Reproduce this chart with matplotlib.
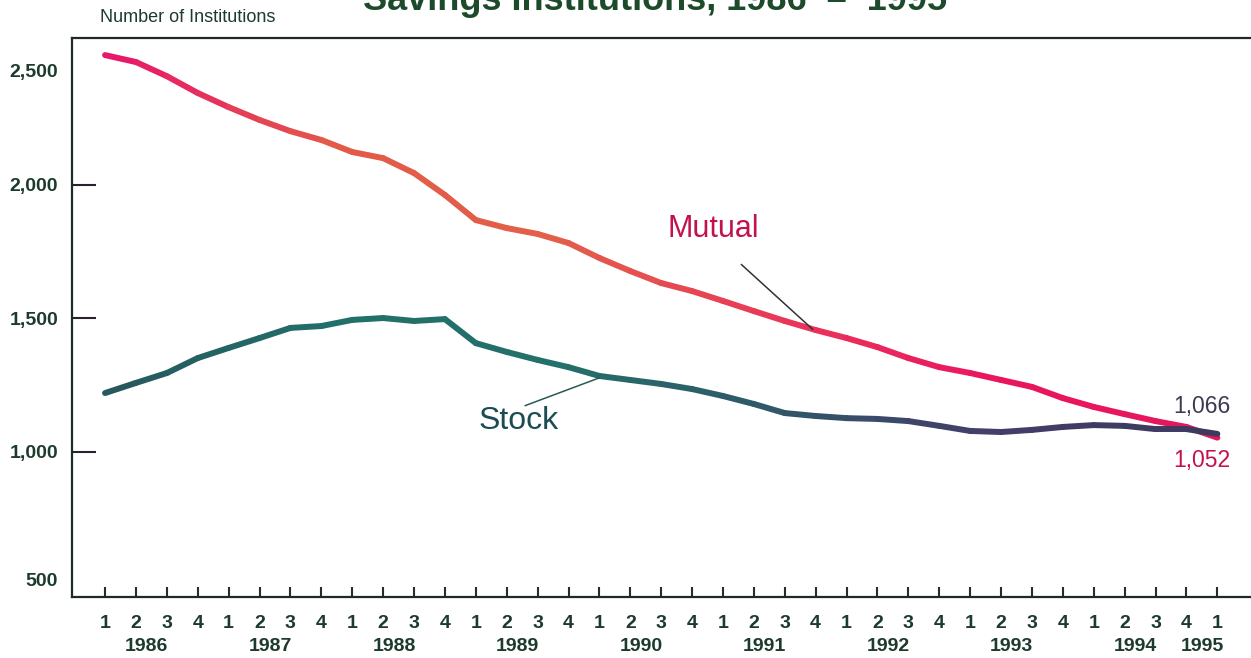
import numpy as np
import matplotlib
matplotlib.use("Agg")
import matplotlib.pyplot as plt
import matplotlib.transforms as mtransforms
from matplotlib.collections import LineCollection
from matplotlib.colors import LinearSegmentedColormap

plt.rcParams['font.family'] = ['Liberation Sans', 'DejaVu Sans']

# quarterly counts, 1986 Q1 .. 1995 Q1
quarters = ['1', '2', '3', '4'] * 9 + ['1']
years = ['1986', '1987', '1988', '1989', '1990', '1991', '1992', '1993', '1994', '1995']
mutual = [2485, 2459, 2406, 2343, 2290, 2242, 2200, 2167, 2122, 2099,
          2043, 1961, 1867, 1837, 1815, 1781, 1725, 1676, 1631, 1601,
          1564, 1526, 1489, 1455, 1425, 1391, 1350, 1316, 1294, 1268,
          1242, 1200, 1167, 1140, 1114, 1092, 1052]
stock = [1219, 1257, 1294, 1350, 1388, 1425, 1463, 1470, 1493, 1500,
         1489, 1496, 1406, 1373, 1343, 1316, 1283, 1268, 1253, 1234,
         1208, 1178, 1144, 1133, 1125, 1122, 1114, 1096, 1077, 1073,
         1081, 1092, 1099, 1096, 1084, 1084, 1066]

GREEN = '#1d3b2c'
CRIMSON = '#c2124c'
TEAL = '#1b4c52'

fig = plt.figure(figsize=(12.51, 6.58), dpi=100)
ax = fig.add_axes([72 / 1251, 1 - 597 / 658, 1 - 72 / 1251, (597 - 38) / 658])

x = np.arange(len(mutual))


def gradient_line(ax, xs, ys, colors, lw=4.3):
    pts = np.column_stack([xs, ys]).reshape(-1, 1, 2)
    segs = np.concatenate([pts[:-1], pts[1:]], axis=1)
    cmap = LinearSegmentedColormap.from_list('g', colors)
    lc = LineCollection(segs, colors=cmap(np.linspace(0, 1, len(segs))),
                        linewidths=lw, capstyle='round', joinstyle='round')
    ax.add_collection(lc)
    return lc


gradient_line(ax, x, mutual, ['#e8186a', '#e35a48', '#e2604a', '#e83a58', '#ea1660', '#e3175c'])
gradient_line(ax, x, stock, ['#27585e', '#22706a', '#24706a', '#2f5868', '#443e6a', '#3c3a5e'])

ax.set_xlim(-1.07, 37.09)
ax.set_ylim(455, 2549)

# y axis
ax.set_yticks([500, 1000, 1500, 2000, 2500])
ax.set_yticklabels(['500', '1,000', '1,500', '2,000', '2,500'],
                   fontsize=14, fontweight='bold', color=GREEN)
ax.tick_params(axis='y', direction='in', length=17, width=1.5, color='#2a2030', pad=10)
yticks = ax.yaxis.get_major_ticks()
for i in (0, 4):
    yticks[i].tick1line.set_visible(False)
# outer labels sit a little inside the axis range
for i, dy in ((0, 5), (4, -19)):
    lbl = yticks[i].label1
    lbl.set_transform(lbl.get_transform() +
                      mtransforms.ScaledTranslation(0, dy / 100, fig.dpi_scale_trans))

# x axis: quarter numbers, years below
ax.set_xticks(x)
ax.set_xticklabels(quarters, fontsize=14, fontweight='bold', color=GREEN)
ax.tick_params(axis='x', direction='in', length=7, width=1.5, color='#2a2a2a', pad=13)

trans = mtransforms.blended_transform_factory(ax.transData, ax.transAxes)
for k, yr in enumerate(years):
    xp = 4 * k + 1.35 if k < len(years) - 1 else 35.5
    ax.text(xp, -0.088, yr, transform=trans, ha='center', va='center',
            fontsize=14, fontweight='bold', color=GREEN)

for side in ('top', 'left', 'bottom'):
    ax.spines[side].set_linewidth(1.6)
    ax.spines[side].set_color('#1f2a26')
ax.spines['right'].set_visible(False)

# series labels with leader lines
ax.text(19.7, 1832, 'Mutual', fontsize=22, color=CRIMSON, ha='center', va='center')
ax.plot([20.6, 22.9], [1700, 1458], color='#333333', lw=1.1)
ax.text(13.4, 1115, 'Stock', fontsize=23, color=TEAL, ha='center', va='center')
ax.plot([13.6, 16.0], [1172, 1276], color='#2a5a55', lw=1.1)

ax.text(35.5, 1167, '1,066', fontsize=16.5, color='#3b3a50', ha='center', va='center')
ax.text(35.5, 965, '1,052', fontsize=16.5, color=CRIMSON, ha='center', va='center')

fig.text(100 / 1251, 1 - 18 / 658, 'Number of Institutions', fontsize=13,
         color=GREEN, ha='left', va='center')
fig.text(655 / 1251, 1 - 10 / 658, 'Savings Institutions, 1986  \u2013  1995',
         fontsize=26, fontweight='bold', color='#1d4a2a', ha='center', va='baseline')

fig.savefig('out.png', dpi=100)
